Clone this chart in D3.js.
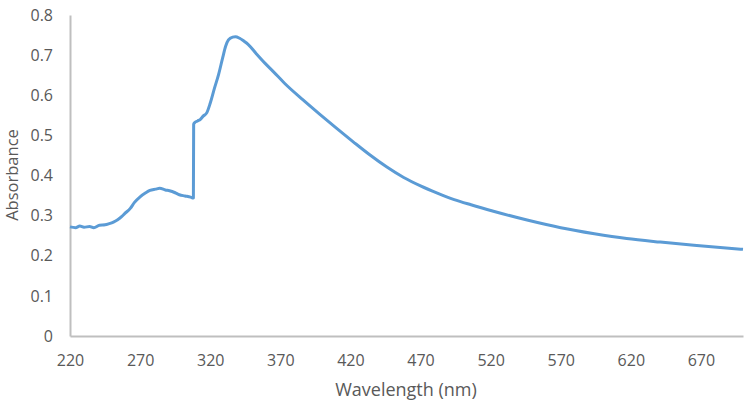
<!DOCTYPE html>
<html>
  <head>
    <meta charset="utf-8">
    <title>Absorbance spectrum</title>
    <style>
      body { margin: 0; background: #fff; }
      text { font-family: "Open Sans", sans-serif; fill: #595959; }
    </style>
  </head>
  <body>
    <script src="https://cdn.jsdelivr.net/npm/d3@7/dist/d3.min.js" charset="utf-8"></script>
    <script type="text/javascript">
      // spectrum
      var wavelength = [
        220, 224, 227, 230, 234, 237, 241, 245, 248, 251, 254, 257, 259,
        263, 266, 270, 274, 277, 281, 284, 288, 291, 295, 298, 302, 306,
        308, 308.2, 309, 311, 313, 315, 317.5, 320, 323, 326, 329, 331,
        333, 336, 338, 341, 344, 347, 353, 359, 365, 373, 386, 398, 410,
        422, 434, 446, 458, 470, 482, 494, 506, 522, 546, 570, 594, 617,
        641, 665, 700
      ];
      var absorbance = [
        0.272, 0.270, 0.274, 0.271, 0.273, 0.270, 0.276, 0.277, 0.280,
        0.284, 0.290, 0.298, 0.305, 0.318, 0.333, 0.347, 0.357, 0.363,
        0.366, 0.368, 0.364, 0.362, 0.357, 0.352, 0.349, 0.346, 0.344,
        0.528, 0.532, 0.536, 0.540, 0.548, 0.556, 0.580, 0.617, 0.652,
        0.695, 0.722, 0.738, 0.745, 0.746, 0.742, 0.735, 0.727, 0.703,
        0.680, 0.659, 0.630, 0.589, 0.553, 0.518, 0.484, 0.451, 0.421,
        0.395, 0.374, 0.356, 0.340, 0.327, 0.311, 0.289, 0.270, 0.255,
        0.243, 0.234, 0.226, 0.216
      ];
      var xTicks = [220, 270, 320, 370, 420, 470, 520, 570, 620, 670];
      var yTicks = [0, 0.1, 0.2, 0.3, 0.4, 0.5, 0.6, 0.7, 0.8];

      var width = 750;
      var height = 406;
      var svg = d3.select("body")
                  .append("svg")
                  .attr("width", width)
                  .attr("height", height);

      var x = d3.scaleLinear().domain([220, 700]).range([70, 743]);
      var y = d3.scaleLinear().domain([0, 0.8]).range([336, 15]);

      // y axis: line plus labels, no tick marks
      var yAxis = svg.append("g")
                     .attr("transform", "translate(70,0)")
                     .call(d3.axisLeft(y).tickValues(yTicks).tickSize(0).tickPadding(17)
                             .tickFormat(function(d) { return d === 0 ? "0" : d3.format(".1f")(d); }));
      yAxis.select(".domain").attr("stroke", "#bfbfbf").attr("stroke-width", 2);
      yAxis.selectAll("text").attr("font-size", 16).attr("font-family", "Open Sans").attr("fill", "#595959");

      var xAxis = svg.append("g")
                     .attr("transform", "translate(0,336)")
                     .call(d3.axisBottom(x).tickValues(xTicks).tickSize(0).tickPadding(19));
      xAxis.select(".domain").attr("stroke", "#bfbfbf").attr("stroke-width", 2);
      xAxis.selectAll("text").attr("font-size", 16).attr("font-family", "Open Sans").attr("fill", "#595959");

      svg.append("text")
         .attr("x", 406)
         .attr("y", 396)
         .attr("text-anchor", "middle")
         .attr("font-size", 18)
         .text("Wavelength (nm)");

      svg.append("text")
         .attr("transform", "translate(18,175) rotate(-90)")
         .attr("text-anchor", "middle")
         .attr("font-size", 16.5)
         .text("Absorbance");

      var line = d3.line()
                   .x(function(d, i) { return x(wavelength[i]); })
                   .y(function(d) { return y(d); })
                   .curve(d3.curveMonotoneX);

      svg.append("path")
         .datum(absorbance)
         .attr("fill", "none")
         .attr("stroke", "#5b9bd5")
         .attr("stroke-width", 3)
         .attr("stroke-linejoin", "round")
         .attr("d", line);
    </script>
  </body>
</html>
